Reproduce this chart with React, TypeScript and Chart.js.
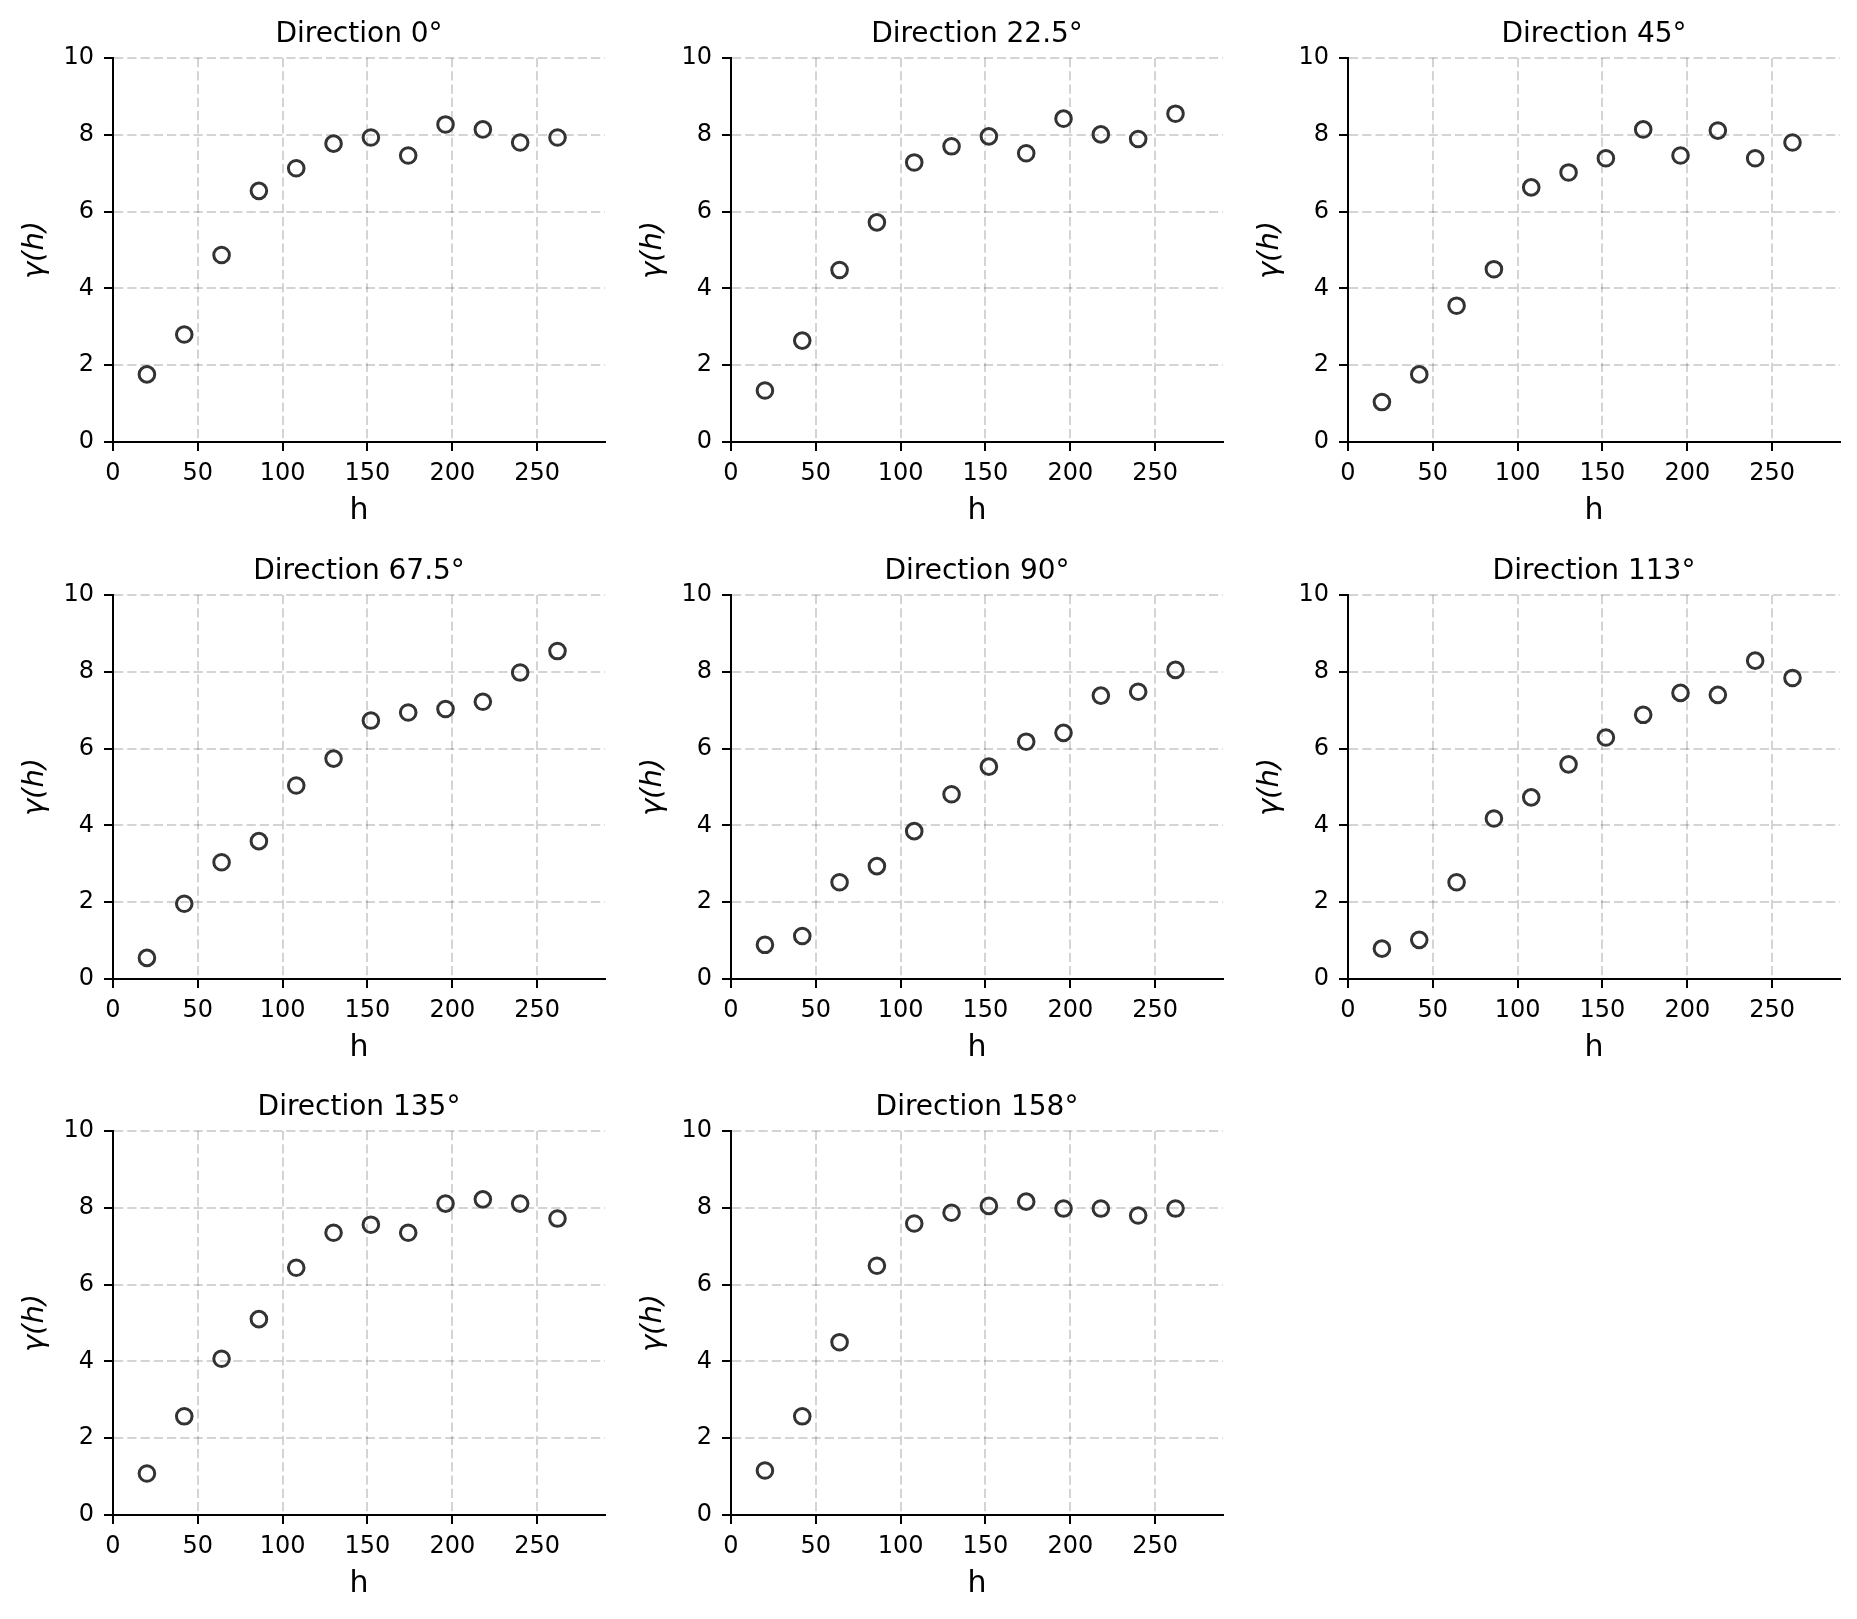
import { useEffect, useRef } from 'react';
import { Chart, registerables } from 'chart.js';

Chart.register(...registerables);

// lag distances (h)
const lags = [20, 42, 64, 86, 108, 130, 152, 174, 196, 218, 240, 262];

const dir0 = [1.76, 2.8, 4.87, 6.54, 7.13, 7.77, 7.93, 7.46, 8.27, 8.14, 7.8, 7.93];
const dir22 = [1.34, 2.64, 4.48, 5.72, 7.28, 7.7, 7.96, 7.52, 8.42, 8.01, 7.89, 8.55];
const dir45 = [1.04, 1.76, 3.55, 4.5, 6.63, 7.02, 7.39, 8.14, 7.46, 8.11, 7.39, 7.8];
const dir67 = [0.55, 1.96, 3.04, 3.59, 5.04, 5.74, 6.73, 6.94, 7.03, 7.22, 7.98, 8.54];
const dir90 = [0.89, 1.12, 2.52, 2.94, 3.85, 4.81, 5.53, 6.18, 6.41, 7.38, 7.48, 8.05];
const dir113 = [0.79, 1.02, 2.52, 4.18, 4.73, 5.59, 6.29, 6.88, 7.45, 7.4, 8.29, 7.84];
const dir135 = [1.08, 2.57, 4.07, 5.1, 6.44, 7.35, 7.56, 7.35, 8.11, 8.22, 8.11, 7.72];
const dir158 = [1.16, 2.57, 4.5, 6.49, 7.59, 7.87, 8.05, 8.16, 7.98, 7.98, 7.8, 7.98];

const titles = [
    'Direction 0°',
    'Direction 22.5°',
    'Direction 45°',
    'Direction 67.5°',
    'Direction 90°',
    'Direction 113°',
    'Direction 135°',
    'Direction 158°',
];
const series = [dir0, dir22, dir45, dir67, dir90, dir113, dir135, dir158];

const colLeft = [0, 618, 1235];
const rowTop = [0, 537, 1073];
const W = 617;
const H = 534;

Chart.defaults.font.family = "'DejaVu Sans', sans-serif";
Chart.defaults.color = '#000';

interface PanelProps {
    title: string;
    values: number[];
    left: number;
    top: number;
}

const Panel = ({ title, values, left, top }: PanelProps) => {
    const canvasRef = useRef<HTMLCanvasElement>(null);

    useEffect(() => {
        if (!canvasRef.current) return;
        const ctx = canvasRef.current.getContext('2d');
        if (!ctx) return;

        const gridStyle = {
            color: 'rgba(0,0,0,0.17)',
            lineWidth: 2,
            tickColor: '#000',
            tickWidth: 2,
            tickLength: 9,
        };
        const borderStyle = { color: '#000', width: 2, dash: [9.25, 4] };

        const chart = new Chart(ctx, {
            type: 'scatter',
            data: {
                datasets: [
                    {
                        data: lags.map((x, i) => ({ x, y: values[i] })),
                        pointStyle: 'circle',
                        pointRadius: 7.8,
                        pointBorderWidth: 3,
                        borderColor: '#333333',
                        backgroundColor: 'rgba(0,0,0,0)',
                        clip: false,
                    },
                ],
            },
            options: {
                animation: false,
                responsive: false,
                events: [],
                layout: { padding: { left: 0, right: 12, top: 0, bottom: 0 } },
                plugins: {
                    legend: { display: false },
                    tooltip: { enabled: false },
                    title: {
                        display: true,
                        text: title,
                        fullSize: false,
                        color: '#000',
                        font: { size: 28, weight: 'normal' },
                        padding: { top: 18, bottom: 6.4 },
                    },
                },
                scales: {
                    x: {
                        type: 'linear',
                        min: 0,
                        max: 290,
                        grid: gridStyle,
                        border: borderStyle,
                        ticks: { stepSize: 50, includeBounds: false, padding: 8, font: { size: 24 } },
                        title: { display: true, text: 'h', font: { size: 30 }, padding: { top: 0, bottom: 5 } },
                        afterFit: (scale: any) => {
                            scale.height = 92;
                        },
                    },
                    y: {
                        type: 'linear',
                        min: 0,
                        max: 10,
                        grid: gridStyle,
                        border: borderStyle,
                        ticks: { stepSize: 2, padding: 10, font: { size: 24 } },
                        title: {
                            display: true,
                            text: 'γ(h)',
                            font: { size: 29, style: 'italic' },
                            padding: { top: 18, bottom: 0 },
                        },
                        afterFit: (scale: any) => {
                            scale.width = 113;
                        },
                    },
                },
            },
        });
        return () => {
            chart.destroy();
        };
    }, [title, values]);

    return (
        <div style={{ position: 'absolute', left, top, width: W, height: H }}>
            <canvas ref={canvasRef} width={W} height={H} style={{ width: W, height: H }}></canvas>
        </div>
    );
};

const App = () => {
    return (
        <div style={{ position: 'absolute', left: 0, top: 0, width: 1857, height: 1619, background: '#fff' }}>
            {series.map((vals, i) => (
                <Panel
                    key={titles[i]}
                    title={titles[i]}
                    values={vals}
                    left={colLeft[i % 3]}
                    top={rowTop[Math.floor(i / 3)]}
                />
            ))}
        </div>
    );
};

export default App;
